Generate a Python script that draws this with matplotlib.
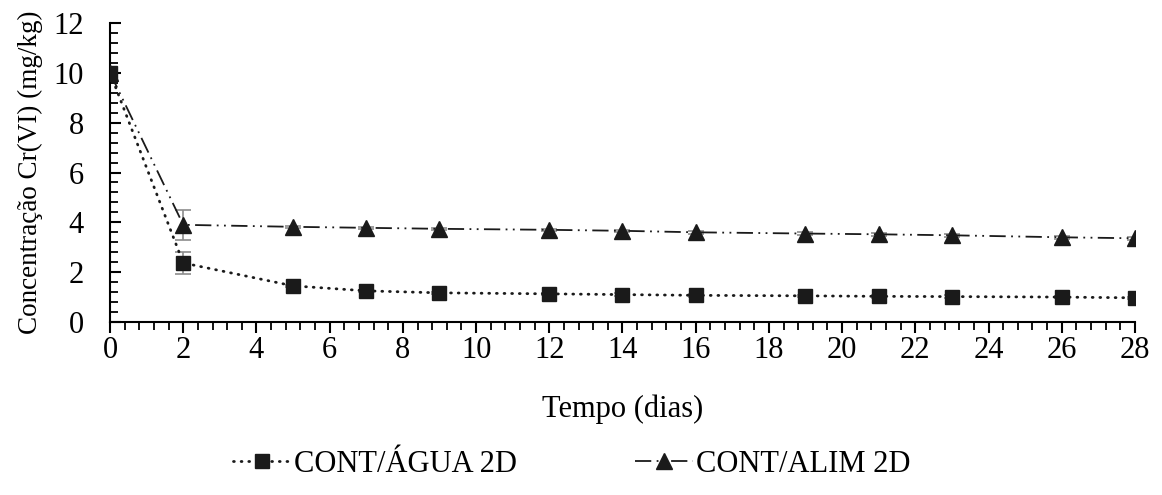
import matplotlib.pyplot as plt
from matplotlib.ticker import MultipleLocator

plt.rcParams['font.family'] = ['Liberation Serif', 'DejaVu Serif']

# dados
tempo_agua = [0, 2, 5, 7, 9, 12, 14, 16, 19, 21, 23, 26, 28]
conc_agua = [10, 2.37, 1.45, 1.25, 1.17, 1.13, 1.1, 1.07, 1.05, 1.03, 1.02, 1.0, 0.97]
err_agua = [0.1, 0.45, 0.05, 0.05, 0.05, 0.05, 0.05, 0.05, 0.05, 0.05, 0.05, 0.05, 0.05]

tempo_alim = [0, 2, 5, 7, 9, 12, 14, 16, 19, 21, 23, 26, 28]
conc_alim = [10, 3.9, 3.82, 3.78, 3.74, 3.7, 3.66, 3.6, 3.55, 3.52, 3.48, 3.4, 3.36]
err_alim = [0.1, 0.6, 0.05, 0.05, 0.05, 0.05, 0.05, 0.05, 0.05, 0.05, 0.05, 0.05, 0.05]

fig = plt.figure(figsize=(11.62, 4.95), dpi=100)
ax = fig.add_axes([0.0947, 0.3495, 0.882, 0.604])

# barras de erro
ax.errorbar(tempo_alim, conc_alim, yerr=err_alim, fmt='none', ecolor='#8c8c8c',
            elinewidth=1.2, capsize=6, capthick=1.2, zorder=2)
ax.errorbar(tempo_agua, conc_agua, yerr=err_agua, fmt='none', ecolor='#8c8c8c',
            elinewidth=1.2, capsize=6, capthick=1.2, zorder=2)

# séries
ax.plot(tempo_alim, conc_alim, color='#1a1a1a', linewidth=1.3,
        linestyle=(0, (9, 3, 1, 3, 1, 3)), marker='^', markersize=12,
        label='CONT/ALIM 2D', zorder=3)
ax.plot(tempo_agua, conc_agua, color='#1a1a1a', linewidth=2.0,
        linestyle=(0, (0.3, 2.45)), dash_capstyle='round', marker='s', markersize=10,
        label='CONT/ÁGUA 2D', zorder=4)

ax.set_xlim(0, 28)
ax.set_ylim(0, 12)
ax.xaxis.set_major_locator(MultipleLocator(2))
ax.xaxis.set_minor_locator(MultipleLocator(0.4))
ax.yaxis.set_major_locator(MultipleLocator(2))
ax.yaxis.set_minor_locator(MultipleLocator(0.4))

ax.tick_params(axis='x', which='major', direction='out', length=8, width=1.5, labelsize=22, pad=2)
ax.tick_params(axis='x', which='minor', direction='out', length=6, width=1.3)
ax.tick_params(axis='y', which='major', direction='in', length=8, width=1.5, labelsize=22, pad=19)
ax.tick_params(axis='y', which='minor', direction='in', length=6, width=1.3)

for s in ['top', 'right']:
    ax.spines[s].set_visible(False)
for s in ['left', 'bottom']:
    ax.spines[s].set_linewidth(1.5)

ax.set_xlabel('Tempo (dias)', fontsize=22, labelpad=21)
ax.set_ylabel('Concentração Cr(VI) (mg/kg)', fontsize=19.5, labelpad=7)

h, l = ax.get_legend_handles_labels()
fig.legend(h[::-1], l[::-1], loc='center', bbox_to_anchor=(0.492, 0.062), ncol=2,
           frameon=False, fontsize=22, handlelength=1.9, columnspacing=3.85,
           handletextpad=0.1)

plt.savefig('out.png', dpi=100)
